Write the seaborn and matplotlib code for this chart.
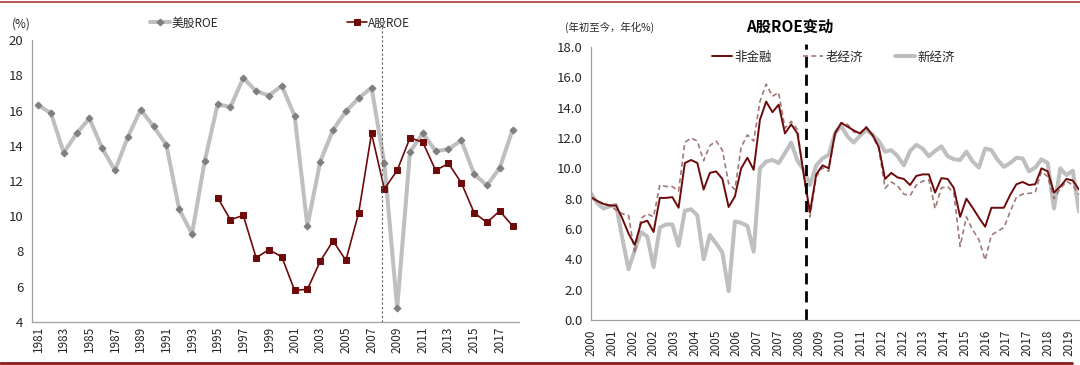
import numpy as np
import matplotlib
matplotlib.use("Agg")
import matplotlib.pyplot as plt
import seaborn as sns
from matplotlib.lines import Line2D

sns.set_style("white")
plt.rcParams["font.family"] = ["Noto Sans CJK SC", "DejaVu Sans"]

# ---------------------------------------------------------------
# data: left panel, annual ROE (%)
# ---------------------------------------------------------------
us_years = list(range(1981, 2019))
us_roe = [16.3, 15.85, 13.6, 14.7, 15.55, 13.85, 12.6, 14.5, 16.05, 15.1,
          14.05, 10.4, 9.0, 13.15, 16.35, 16.2, 17.85, 17.1, 16.85, 17.4,
          15.7, 9.45, 13.1, 14.9, 15.95, 16.7, 17.3, 13.0, 4.8, 13.65,
          14.7, 13.7, 13.8, 14.3, 12.4, 11.75, 12.75, 14.9]
a_years = list(range(1995, 2019))
a_roe = [11.05, 9.8, 10.05, 7.65, 8.1, 7.7, 5.8, 5.85, 7.45, 8.6,
         7.5, 10.2, 14.7, 11.55, 12.6, 14.45, 14.2, 12.6, 13.0, 11.9,
         10.2, 9.65, 10.3, 9.45]

# ---------------------------------------------------------------
# data: right panel, A-share ROE by group (YTD annualised, %)
# ---------------------------------------------------------------
right_labels = ["2000", "2001", "2002", "2002", "2003", "2004", "2005", "2006",
                "2007", "2007", "2008", "2009", "2010", "2011", "2012", "2012",
                "2013", "2014", "2015", "2016", "2017", "2017", "2018", "2019"]
nonfin = [8.1, 7.85, 7.65, 7.55, 7.55, 6.7, 5.7, 4.95, 6.4, 6.55,
          5.8, 8.05, 8.05, 8.1, 7.4, 10.35, 10.55, 10.35, 8.6, 9.7,
          9.8, 9.3, 7.45, 8.15, 10.0, 10.7, 9.9, 13.2, 14.4, 13.7,
          14.2, 12.3, 12.9, 12.3, 9.6, 7.1, 9.6, 10.2, 10.0, 12.3,
          13.0, 12.75, 12.5, 12.3, 12.7, 12.2, 11.4, 9.3, 9.7, 9.4,
          9.3, 8.9, 9.5, 9.6, 9.6, 8.4, 9.35, 9.3, 8.7, 6.8,
          8.0, 7.4, 6.75, 6.15, 7.4, 7.4, 7.4, 8.25, 8.95, 9.1,
          8.9, 8.95, 10.0, 9.8, 8.4, 8.8, 9.3, 9.2, 8.6]
old_econ = [8.1, 7.8, 7.7, 7.55, 7.25, 7.0, 6.9, 4.4, 6.7, 7.0,
            6.8, 8.9, 8.8, 8.8, 8.5, 11.7, 12.0, 11.8, 10.5, 11.5,
            11.8, 11.2, 9.0, 8.6, 11.4, 12.2, 11.8, 14.4, 15.55, 14.75,
            15.0, 12.65, 13.1, 12.55, 9.5, 6.8, 9.45, 10.05, 9.8, 12.4,
            13.0, 12.9, 12.4, 12.3, 12.75, 12.15, 11.3, 8.7, 9.1, 8.85,
            8.3, 8.2, 8.9, 9.15, 9.25, 7.35, 8.7, 8.8, 8.35, 4.85,
            6.8, 5.95, 5.3, 3.95, 5.6, 5.85, 6.1, 7.15, 8.1, 8.3,
            8.35, 8.4, 9.8, 9.45, 8.0, 8.65, 9.15, 8.9, 8.25]
new_econ = [8.35, 7.7, 7.35, 7.5, 7.6, 5.4, 3.35, 4.6, 5.8, 5.5,
            3.5, 6.1, 6.3, 6.3, 4.9, 7.2, 7.3, 6.9, 4.0, 5.6,
            5.05, 4.45, 1.9, 6.5, 6.4, 6.2, 4.5, 10.0, 10.45, 10.55,
            10.35, 11.0, 11.7, 10.5, 9.9, 8.9, 10.2, 10.65, 10.9, 12.3,
            12.8, 12.1, 11.7, 12.15, 12.55, 12.2, 11.8, 11.1, 11.2, 10.8,
            10.2, 11.15, 11.55, 11.3, 10.8, 11.15, 11.45, 10.8, 10.6, 10.55,
            11.1, 10.45, 10.05, 11.3, 11.2, 10.55, 10.1, 10.35, 10.7, 10.65,
            9.8, 10.05, 10.6, 10.35, 7.35, 10.0, 9.55, 9.85, 7.15]

W, H = 1080, 365
RED = "#6E0A0A"
GREY = "#BFBFBF"
AXIS = "#A0A0A0"
TXT = "#262626"

fig = plt.figure(figsize=(W / 100, H / 100), dpi=100)
ax1 = fig.add_axes([31.7 / W, 1 - 322 / H, (519 - 31.7) / W, (322 - 40) / H])
ax2 = fig.add_axes([591 / W, 1 - 320 / H, (1079 - 591) / W, (320 - 47) / H])

# ---------------------------------------------------------------
# left panel
# ---------------------------------------------------------------
sns.lineplot(x=us_years, y=us_roe, ax=ax1, color=GREY, lw=2.9,
             marker="D", markersize=3.5, markerfacecolor="#7F7F7F",
             markeredgecolor="#7F7F7F", label="美股ROE")
sns.lineplot(x=a_years, y=a_roe, ax=ax1, color=RED, lw=1.2,
             marker="s", markersize=4.5, markerfacecolor=RED,
             markeredgecolor=RED, label="A股ROE")
ax1.axvline(2007.8, ymin=0, ymax=1.045, clip_on=False, color="#606060",
            lw=0.8, ls=(0, (2, 2)))

ax1.set_xlim(1980.5, 2018.5)
ax1.set_ylim(4, 20)
ax1.set_yticks(range(4, 21, 2))
ax1.set_xticks(range(1981, 2018, 2))
ax1.set_xticks(np.arange(1980.5, 2019, 1), minor=True)
ax1.tick_params(axis="x", which="major", length=0, rotation=90, labelsize=8.5,
                colors=TXT, pad=3)
ax1.tick_params(axis="x", which="minor", length=4, color=AXIS, width=0.8)
ax1.tick_params(axis="y", length=4, color=AXIS, width=0.8, labelsize=9.5,
                colors=TXT, pad=2)
ax1.set_xlabel("")
ax1.set_ylabel("")
ax1.legend(loc="center left", bbox_to_anchor=(150 / W, 1 - 23 / H),
           bbox_transform=fig.transFigure, ncol=2, frameon=False,
           columnspacing=10.9, handlelength=1.7, handletextpad=0.1,
           fontsize=8.5, borderaxespad=0, borderpad=0)
fig.text(12 / W, 1 - 24 / H, "(%)", fontsize=8.5, va="center", color=TXT)

# ---------------------------------------------------------------
# right panel
# ---------------------------------------------------------------
xq = np.arange(len(nonfin))
sns.lineplot(x=xq, y=new_econ, ax=ax2, color=GREY, lw=2.9, label="新经济")
sns.lineplot(x=xq, y=old_econ, ax=ax2, color="#A07878", lw=1.2,
             linestyle=(0, (3, 2)), label="老经济")
sns.lineplot(x=xq, y=nonfin, ax=ax2, color=RED, lw=1.4, label="非金融")
ax2.axvline(34.3, ymin=0, ymax=1.01, clip_on=False, color="black", lw=2,
            ls=(0, (4, 2.5)))

ax2.set_xlim(0, len(nonfin) - 1)
ax2.set_ylim(0, 18)
ax2.set_yticks(np.arange(0, 18.1, 2))
ax2.set_yticklabels([f"{v:.1f}" for v in np.arange(0, 18.1, 2)])
ax2.set_xticks(np.arange(len(right_labels)) * 3.32)
ax2.set_xticklabels(right_labels)
ax2.tick_params(axis="x", length=4, color=AXIS, width=0.8, rotation=90,
                labelsize=8.5, colors=TXT, pad=3)
ax2.tick_params(axis="y", length=4, color=AXIS, width=0.8, labelsize=9.5,
                colors=TXT, pad=2)
ax2.set_xlabel("")
ax2.set_ylabel("")
h, l = ax2.get_legend_handles_labels()
order = [2, 1, 0]
ax2.legend([h[i] for i in order], [l[i] for i in order],
           loc="center left", bbox_to_anchor=(712 / W, 1 - 57 / H),
           bbox_transform=fig.transFigure, ncol=3, frameon=False,
           columnspacing=2.5, handlelength=1.6, handletextpad=0.2,
           fontsize=9, borderaxespad=0, borderpad=0)
fig.text(790 / W, 1 - 27 / H, "A股ROE变动", ha="center", va="center",
         fontsize=11, fontweight="bold", color="black")
fig.text(565 / W, 1 - 27 / H, "(年初至今，年化%)", va="center", fontsize=7.5,
         color=TXT)

for ax in (ax1, ax2):
    for side in ("top", "right"):
        ax.spines[side].set_visible(False)
    for side in ("left", "bottom"):
        ax.spines[side].set_color(AXIS)
        ax.spines[side].set_linewidth(0.9)
    ax.grid(False)

# page border lines
fig.add_artist(Line2D([0, 1], [1 - 1.5 / H] * 2, color="#A33B3B", lw=1.2))
fig.add_artist(Line2D([0, 1072 / W], [1 - 362.5 / H] * 2, color="#8B1A1A",
                      lw=2))

fig.savefig("out.png", dpi=100)
